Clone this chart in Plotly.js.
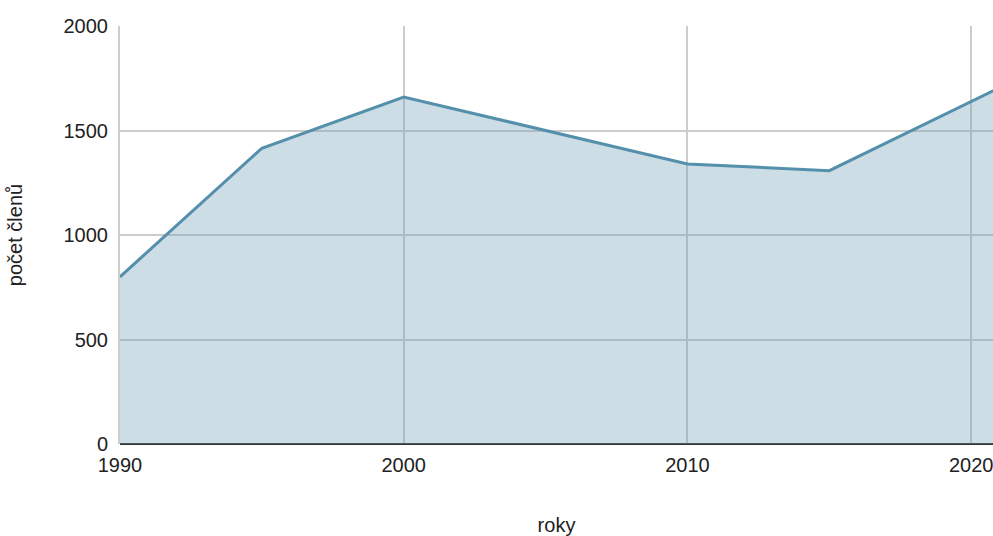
<!DOCTYPE html>
<html>
<head>
<meta charset="utf-8">
<script src="https://cdn.plot.ly/plotly-3.0.1.min.js"></script>
<style>html,body{margin:0;padding:0;background:#fff;}#chart{width:993px;height:536px;}</style>
</head>
<body>
<div id="chart"></div>
<script>
const years = [1990, 1995, 2000, 2005, 2010, 2015, 2020, 2021];
const members = [800, 1415, 1660, 1500, 1340, 1308, 1640, 1705];
const xTicks = [1990, 2000, 2010, 2020];
const yTicks = [0, 500, 1000, 1500, 2000];

Plotly.newPlot('chart', [{
  x: years, y: members, type: 'scatter', mode: 'lines',
  fill: 'tozeroy', fillcolor: 'rgba(112,158,181,0.35)',
  line: {color: '#5490ab', width: 3},
  hoverinfo: 'x+y'
}], {
  width: 993, height: 536,
  margin: {l: 120, r: 0, t: 26, b: 92},
  paper_bgcolor: '#fff', plot_bgcolor: '#fff',
  font: {family: 'Liberation Sans, Arial, sans-serif', size: 20, color: '#222'},
  showlegend: false,
  xaxis: {
    range: [1990, 2020.77], tickvals: xTicks, ticktext: xTicks.map(String),
    showgrid: true, gridcolor: '#cccccc', gridwidth: 2,
    zeroline: false, showline: false, ticks: '', ticklen: 0,
    ticklabelstandoff: 7, ticklabeloverflow: 'allow', automargin: false,
    title: {text: 'roky', font: {size: 20}, standoff: 46}
  },
  yaxis: {
    range: [0, 2000], tickvals: yTicks, ticktext: yTicks.map(String),
    showgrid: true, gridcolor: '#cccccc', gridwidth: 2,
    zeroline: true, zerolinecolor: '#333', zerolinewidth: 2,
    showline: true, linecolor: '#cccccc', linewidth: 2, ticks: '',
    ticklabelstandoff: 6, automargin: false,
    title: {text: 'počet členů', font: {size: 20}, standoff: 36}
  }
}, {displayModeBar: false, staticPlot: true});
</script>
</body>
</html>
